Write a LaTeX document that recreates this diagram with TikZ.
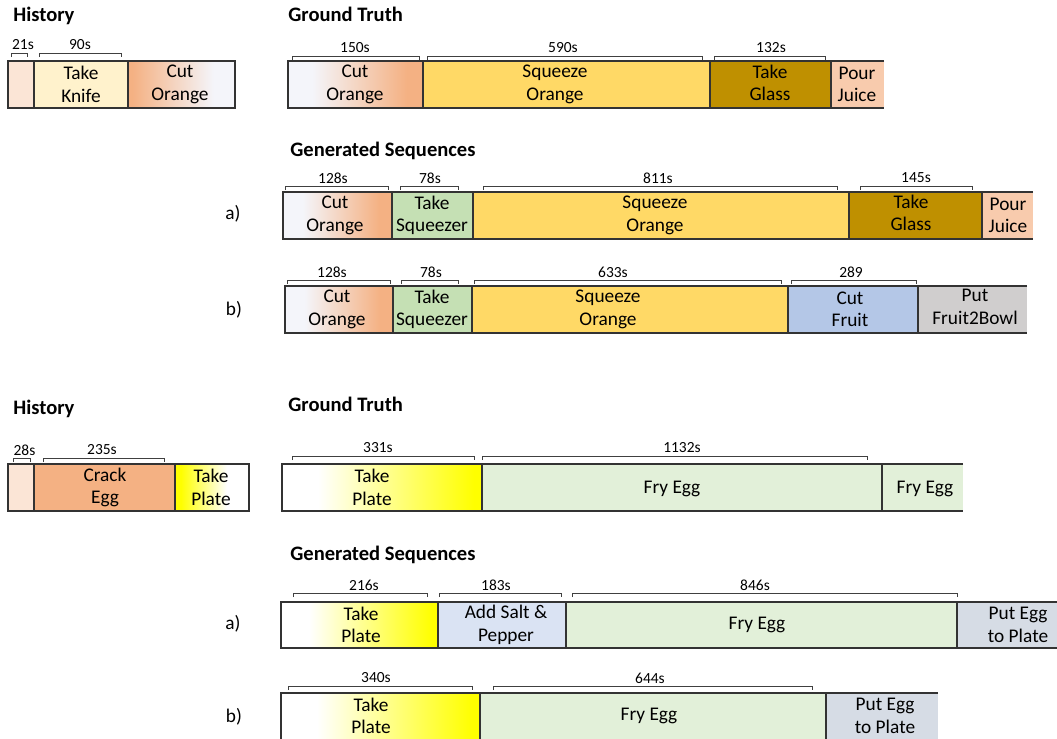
\documentclass[tikz,border=0pt]{standalone}
\usepackage{fontspec}
\setmainfont{Carlito}
\usepackage{tikz}
\usetikzlibrary{positioning}

\definecolor{peach}{HTML}{FBE5D6}
\definecolor{cream}{HTML}{FFF2CC}
\definecolor{orangeA}{HTML}{F4B183}
\definecolor{paleblue}{HTML}{F4F5FA}
\definecolor{squeeze}{HTML}{FFD966}
\definecolor{glass}{HTML}{BF9000}
\definecolor{juice}{HTML}{F8CBAD}
\definecolor{squeezer}{HTML}{C5E0B4}
\definecolor{fruit}{HTML}{B4C7E7}
\definecolor{bowl}{HTML}{D0CECE}
\definecolor{egg}{HTML}{E2F0D9}
\definecolor{salt}{HTML}{DAE3F3}
\definecolor{plateblue}{HTML}{D6DCE5}

% gradients (middle 25bp..75bp covers the box)
\pgfdeclarehorizontalshading{cutorange}{100bp}{color(0bp)=(paleblue); color(34bp)=(paleblue); color(69bp)=(orangeA); color(100bp)=(orangeA)}
\pgfdeclarehorizontalshading{cutorangeR}{100bp}{color(0bp)=(orangeA); color(27bp)=(orangeA); color(65bp)=(paleblue); color(100bp)=(paleblue)}
\pgfdeclarehorizontalshading{takeplate}{100bp}{color(0bp)=(white); color(34bp)=(white); color(73bp)=(yellow); color(100bp)=(yellow)}
\pgfdeclarehorizontalshading{takeplateR}{100bp}{color(0bp)=(yellow); color(29bp)=(yellow); color(60bp)=(white); color(100bp)=(white)}

\begin{document}
\begin{tikzpicture}[x=0.02cm, y=-0.02cm,
    seg/.style={draw=black!80, line width=0.6pt},
    brk/.style={draw=black!75, line width=0.55pt},
    dur/.style={inner sep=0pt, font=\fontsize{8.8}{10}\selectfont},
    act/.style={align=center, inner sep=0pt, font=\fontsize{11}{12.8}\selectfont},
    head/.style={anchor=base west, inner sep=0pt, font=\fontsize{11.7}{14}\selectfont\bfseries}]

    \useasboundingbox (0,0) rectangle (1057,738);
    \clip (0,0) rectangle (1057,738);

    % ---------------- orange juice ----------------
    \node (histA) [head] at (13,21) {History};
    \node (gtA)   [head] at (288,21) {Ground Truth};
    \node (genA)  [head] at (290,156) {Generated Sequences};
    \node (aA) [act] at (233,214) {a)};
    \node (bA) [act] at (234,310) {b)};

    % history
    \draw [seg, fill=peach] (8,61) rectangle (34,108);
    \draw [seg, fill=cream] (34,61) rectangle (128,108);
    \draw [seg, shading=cutorangeR] (128,61) rectangle (235,108);
    \node (hKnife) [act] at (81,84.5) {Take\\Knife};
    \node (hCut)   [act] at (180,84.5) {Cut\\Orange};

    \draw [brk] (11,57) -- (11,53) -- (27,53) -- (27,57);
    \draw [brk] (39,57) -- (39,53) -- (121,53) -- (121,57);
    \node (h21) [dur] at (23,45) {21s};
    \node (h90) [dur] at (80,45) {90s};

    % ground truth
    \draw [seg, shading=cutorange] (288,61) rectangle (423,108);
    \draw [seg, fill=squeeze] (423,61) rectangle (710,108);
    \draw [seg, fill=glass] (710,61) rectangle (831,108);
    \path [fill=juice] (831,61) rectangle (884,108);
    \draw [seg] (884,61) -- (831,61) -- (831,108) -- (884,108);
    \node (gCut)     [act] at (355,84.5) {Cut\\Orange};
    \node (gSqueeze) [act] at (555,84.5) {Squeeze\\Orange};
    \node (gGlass)   [act] at (770,83) {Take\\Glass};
    \node (gPour)    [act] at (857,84.5) {Pour\\Juice};

    \draw [brk] (292,60) -- (292,56) -- (419,56) -- (419,60);
    \draw [brk] (427,60) -- (427,56) -- (702,56) -- (702,60);
    \draw [brk] (714,60) -- (714,56) -- (825,56) -- (825,60);
    \node (g150) [dur] at (355,48) {150s};
    \node (g590) [dur] at (563,48) {590s};
    \node (g132) [dur] at (771,48) {132s};

    % generated a)
    \draw [seg, shading=cutorange] (283,192) rectangle (392,239);
    \draw [seg, fill=squeezer] (392,192) rectangle (473,239);
    \draw [seg, fill=squeeze] (473,192) rectangle (849,239);
    \draw [seg, fill=glass] (849,192) rectangle (982,239);
    \path [fill=juice] (982,192) rectangle (1033,239);
    \draw [seg] (1033,192) -- (982,192) -- (982,239) -- (1033,239);
    \node (aCut)      [act] at (335,215.5) {Cut\\Orange};
    \node (aSqueezer) [act] at (432,215.5) {Take\\Squeezer};
    \node (aSqueeze)  [act] at (655,215.5) {Squeeze\\Orange};
    \node (aGlass)    [act] at (911,213) {Take\\Glass};
    \node (aPour)     [act] at (1008,215.5) {Pour\\Juice};

    \draw [brk] (285,190) -- (285,186) -- (388,186) -- (388,190);
    \draw [brk] (400,190) -- (400,186) -- (458,186) -- (458,190);
    \draw [brk] (483,190) -- (483,186) -- (837,186) -- (837,190);
    \draw [brk] (860,190) -- (860,186) -- (972,186) -- (972,190);
    \node (a128) [dur] at (333,178) {128s};
    \node (a78)  [dur] at (430,178) {78s};
    \node (a811) [dur] at (658,178) {811s};
    \node (a145) [dur] at (916,178) {145s};

    % generated b)
    \draw [seg, shading=cutorange] (285,286) rectangle (393,333);
    \draw [seg, fill=squeezer] (393,286) rectangle (472,333);
    \draw [seg, fill=squeeze] (472,286) rectangle (788,333);
    \draw [seg, fill=fruit] (788,286) rectangle (918,333);
    \path [fill=bowl] (918,286) rectangle (1027,333);
    \draw [seg] (1027,286) -- (918,286) -- (918,333) -- (1027,333);
    \node (bCut)      [act] at (337,309.5) {Cut\\Orange};
    \node (bSqueezer) [act] at (432,309.5) {Take\\Squeezer};
    \node (bSqueeze)  [act] at (608,309.5) {Squeeze\\Orange};
    \node (bFruit)    [act] at (850,309.5) {Cut\\Fruit};
    \node (bBowl)     [act] at (975,307) {Put\\Fruit2Bowl};

    \draw [brk] (287,284) -- (287,280) -- (390,280) -- (390,284);
    \draw [brk] (401,284) -- (401,280) -- (458,280) -- (458,284);
    \draw [brk] (474,284) -- (474,280) -- (781,280) -- (781,284);
    \draw [brk] (791,284) -- (791,280) -- (916,280) -- (916,284);
    \node (b128) [dur] at (332,272) {128s};
    \node (b78)  [dur] at (431,272) {78s};
    \node (b633) [dur] at (613,272) {633s};
    \node (b289) [dur] at (851,272) {289};

    % ---------------- fried egg ----------------
    \node (histB) [head] at (13,414) {History};
    \node (gtB)   [head] at (288,411) {Ground Truth};
    \node (genB)  [head] at (290,560) {Generated Sequences};
    \node (aB) [act] at (233,624) {a)};
    \node (bB) [act] at (234,717) {b)};

    % history
    \draw [seg, fill=peach] (8,464) rectangle (34,511);
    \draw [seg, fill=orangeA] (34,464) rectangle (175,511);
    \draw [seg, shading=takeplateR] (175,464) rectangle (249,511);
    \node (hCrack) [act] at (105,487.5) {Crack\\Egg};
    \node (hPlate) [act] at (211,487.5) {Take\\Plate};

    \draw [brk] (13,462) -- (13,458) -- (30,458) -- (30,462);
    \draw [brk] (43,462) -- (43,458) -- (164,458) -- (164,462);
    \node (h28)  [dur] at (24.5,450) {28s};
    \node (h235) [dur] at (102,450) {235s};

    % ground truth
    \draw [seg, shading=takeplate] (282,464) rectangle (482,511);
    \draw [seg, fill=egg] (482,464) rectangle (882,511);
    \path [fill=egg] (882,464) rectangle (963,511);
    \draw [seg] (963,464) -- (882,464) -- (882,511) -- (963,511);
    \node (gPlate) [act] at (372,487.5) {Take\\Plate};
    \node (gFry)   [act] at (672,489) {Fry Egg};
    \node (gFry2)  [act] at (925,489) {Fry Egg};

    \draw [brk] (292,460) -- (292,456) -- (474,456) -- (474,460);
    \draw [brk] (482,460) -- (482,456) -- (867,456) -- (867,460);
    \node (g331)  [dur] at (378,448) {331s};
    \node (g1132) [dur] at (682,448) {1132s};

    % generated a)
    \draw [seg, shading=takeplate] (281,602) rectangle (438,648);
    \draw [seg, fill=salt] (438,602) rectangle (566,648);
    \draw [seg, fill=egg] (566,602) rectangle (957,648);
    \path [fill=plateblue] (957,602) rectangle (1070,648);
    \draw [seg] (1070,602) -- (957,602) -- (957,648) -- (1070,648);
    \node (aPlate)  [act] at (361,625) {Take\\Plate};
    \node (aSalt)   [act] at (506,625) {Add Salt \&\\Pepper};
    \node (aFry)    [act] at (757,625) {Fry Egg};
    \node (aPutEgg) [act] at (1018,625) {Put Egg\\to Plate};

    \draw [brk] (293,597) -- (293,593) -- (427,593) -- (427,597);
    \draw [brk] (439,597) -- (439,593) -- (561,593) -- (561,597);
    \draw [brk] (572,597) -- (572,593) -- (957,593) -- (957,597);
    \node (a216) [dur] at (364,585) {216s};
    \node (a183) [dur] at (496,585) {183s};
    \node (a846) [dur] at (755,585) {846s};

    % generated b)
    \draw [seg, shading=takeplate] (281,693) rectangle (480,740);
    \draw [seg, fill=egg] (480,693) rectangle (826,740);
    \path [fill=plateblue] (826,693) rectangle (938,740);
    \draw [seg] (938,693) -- (826,693) -- (826,740) -- (938,740);
    \node (bPlate)  [act] at (371,716) {Take\\Plate};
    \node (bFry)    [act] at (649,716) {Fry Egg};
    \node (bPutEgg) [act] at (885,716) {Put Egg\\to Plate};

    \draw [brk] (288,690) -- (288,686) -- (472,686) -- (472,690);
    \draw [brk] (493,690) -- (493,686) -- (812,686) -- (812,690);
    \node (b340) [dur] at (376,678) {340s};
    \node (b644) [dur] at (650,678) {644s};

\end{tikzpicture}
\end{document}
